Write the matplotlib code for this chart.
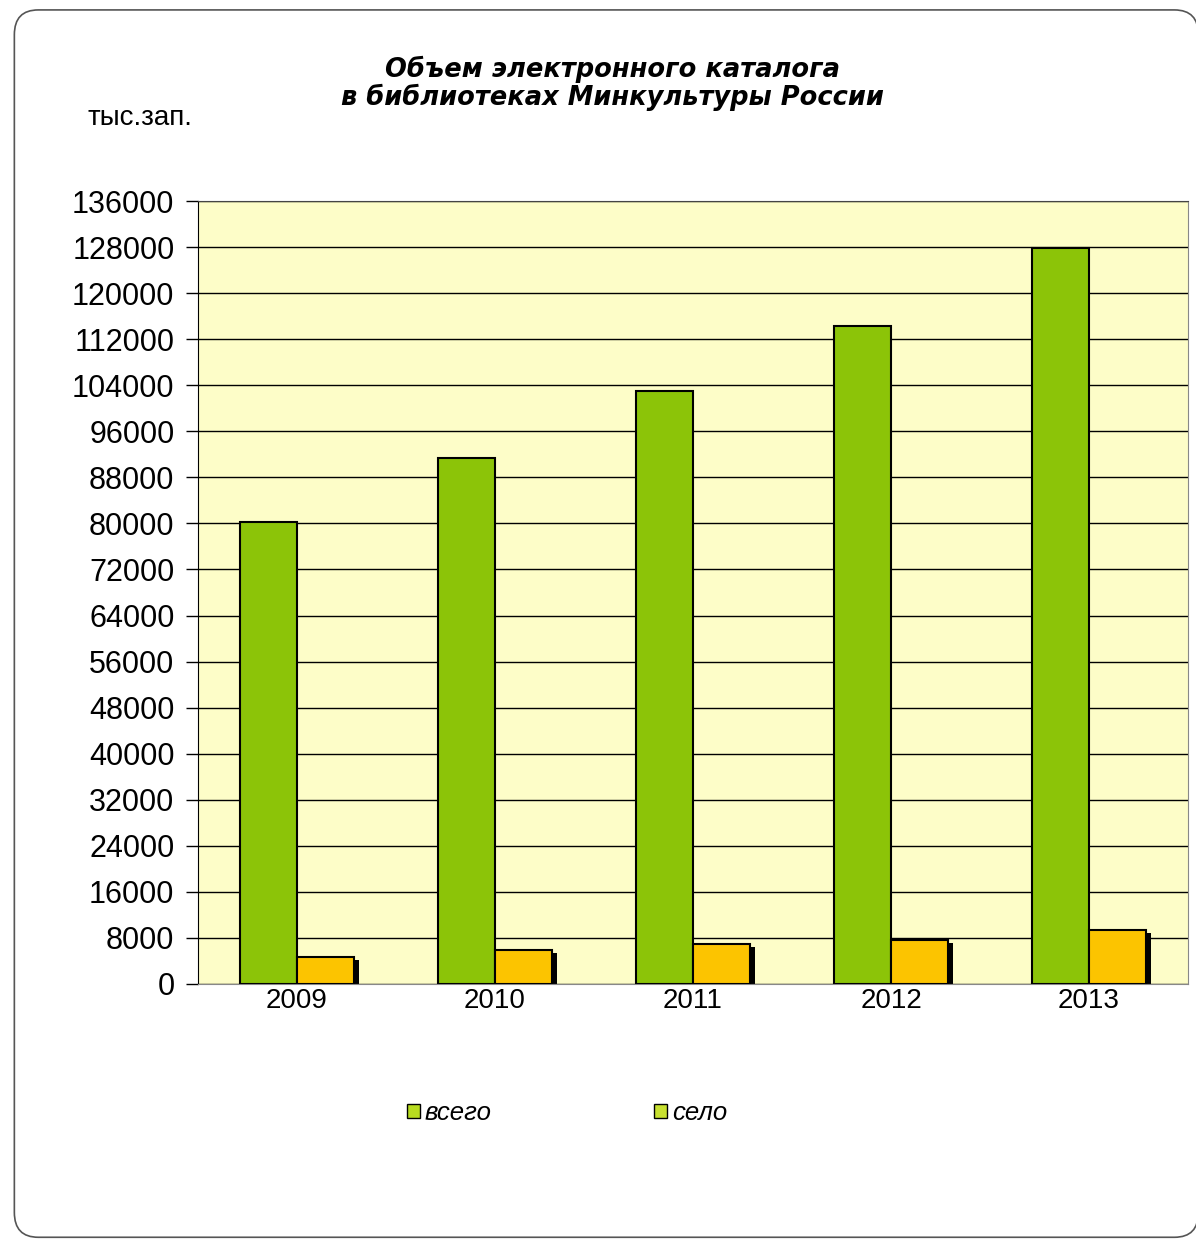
import matplotlib.pyplot as plt
import numpy as np
from matplotlib.patches import FancyBboxPatch, Patch

years = ["2009", "2010", "2011", "2012", "2013"]
total = [80200, 91400, 103000, 114300, 127800]
rural = [4700, 5900, 6900, 7600, 9400]
yticks = list(range(0, 136001, 8000))

plt.rcParams["font.family"] = ["Liberation Sans", "DejaVu Sans"]

fig = plt.figure(figsize=(11.96, 12.41), dpi=100)

# rounded frame around the whole slide
frame = FancyBboxPatch((0.012, 0.003), 0.99, 0.989, boxstyle="round,pad=0,rounding_size=0.02",
                       transform=fig.transFigure, fc="white", ec="#555555", lw=1.2, zorder=-1)
fig.patches.append(frame)

ax = fig.add_axes([0.1656, 0.2071, 0.8277, 0.6309])
ax.set_facecolor("#fdfdc8")

x = np.arange(len(years))
w = 0.29
ax.bar(x - w / 2, total, w, color="#8cc408", edgecolor="black", lw=1.5, zorder=3)
# shadow behind the yellow bars
ax.bar(x + w / 2 + 0.022, np.array(rural) - 500, w, color="black", zorder=2)
ax.bar(x + w / 2, rural, w, color="#fcc400", edgecolor="black", lw=1.5, zorder=3)

ax.set_xlim(-0.5, 4.5)
ax.set_ylim(0, 136000)
ax.set_yticks(yticks)
ax.set_yticklabels([str(v) for v in yticks], fontsize=22)
ax.set_xticks(x)
ax.set_xticklabels(years, fontsize=20)
ax.tick_params(axis="x", length=0, pad=3)
ax.tick_params(axis="y", length=9, width=1, pad=8)
ax.yaxis.grid(True, color="black", lw=1)
ax.set_axisbelow(True)
ax.spines["top"].set_color("#444444")
ax.spines["right"].set_color("#888888")
ax.spines["left"].set_color("black")
ax.spines["bottom"].set_color("#888888")

fig.text(0.512, 0.933, "Объем электронного каталога\nв библиотеках Минкультуры России",
         ha="center", va="center", fontsize=18.5, fontweight="bold", fontstyle="italic",
         family="DejaVu Sans", linespacing=1.05)
fig.text(0.073, 0.905, "тыс.зап.", fontsize=20, va="center")

handles = [Patch(fc="#b8dc20", ec="black"), Patch(fc="#c8e030", ec="black")]
fig.legend(handles, ["всего", "село"], loc="center", bbox_to_anchor=(0.474, 0.103),
           ncol=2, frameon=False, prop={"style": "italic", "size": 18.5},
           handlelength=0.5, handleheight=0.5, handletextpad=0.2, columnspacing=6.3)

fig.savefig("out.png", dpi=100)
